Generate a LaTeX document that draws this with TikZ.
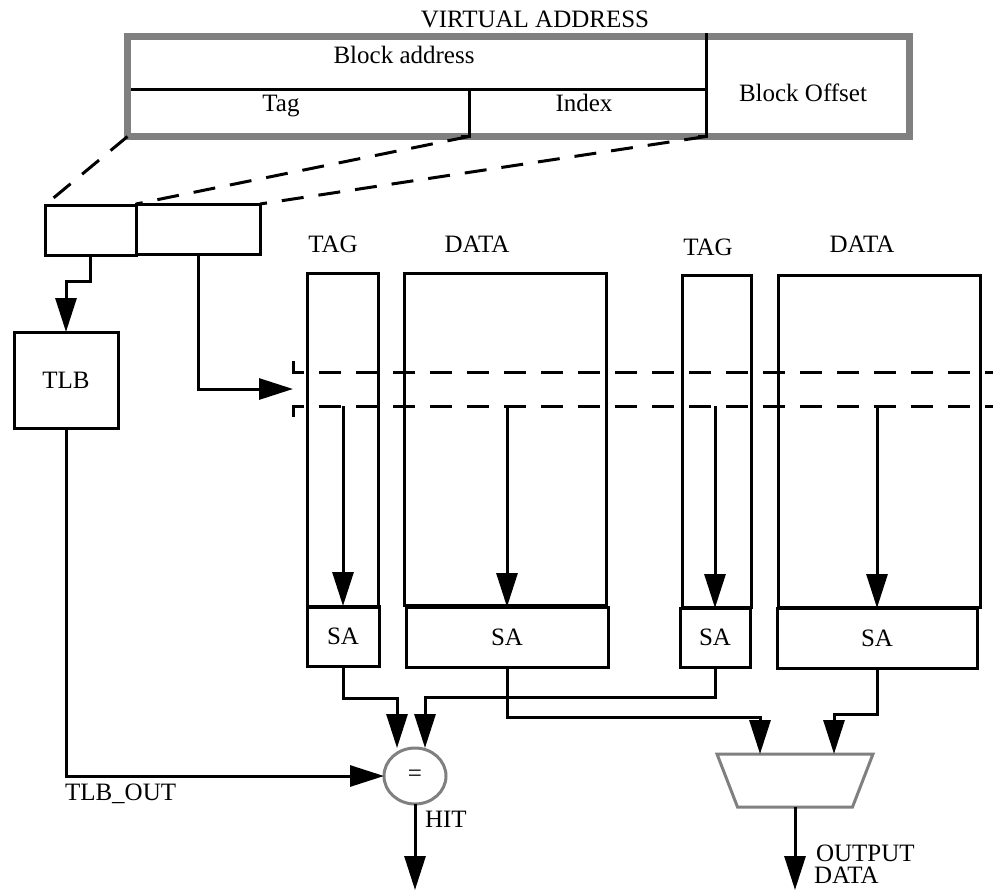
\documentclass[tikz,border=0pt]{standalone}
\usepackage{fontspec}
\setmainfont{Liberation Serif}
\usetikzlibrary{arrows.meta,shapes.geometric}
\definecolor{midgray}{RGB}{128,128,128}
\begin{document}
\begin{tikzpicture}[x=1pt,y=-1pt,
  font=\fontsize{25}{27}\selectfont,
  every node/.style={inner sep=0pt, outer sep=0pt},
  ln/.style={line width=3pt},
  arr/.style={line width=3pt, -{Triangle[length=34pt,width=21pt]}},
  dsh/.style={line width=3pt, dash pattern=on 22pt off 15pt},
  blk/.style={draw, line width=3pt, anchor=north west},
  lbl/.style={anchor=base},
  lblw/.style={anchor=base west},
  grayline/.style={draw=midgray, line width=3pt},
]
\useasboundingbox (0,0) rectangle (993,892);

% virtual address box
\node[draw=midgray, line width=7pt, minimum width=781.5, minimum height=100, anchor=north west] (va) at (127.5,36.5) {};
\node[lbl] (vatitle) at (535,27) {VIRTUAL ADDRESS};
\node[lbl] (blkaddr) at (404,63) {Block address};
\node[lbl] (tagtxt) at (281,111) {Tag};
\node[lbl] (idxtxt) at (584,111) {Index};
\node[lbl] (offtxt) at (803,101) {Block Offset};
\coordinate (hl) at (131,89);
\coordinate (s1top) at (469,89);
\coordinate (s1) at (469,136.5);
\coordinate (s2top) at (706,33);
\coordinate (s2) at (706,136.5);
\draw[ln] (hl) -- (s2top |- hl);
\draw[ln] (s2top) -- (s2) -- ++(-8,0);
\draw[ln] (s1top) -- (s1) -- ++(-8,0);

% split boxes
\node[blk, minimum width=91, minimum height=50] (tagbits) at (45,205) {};
\node[blk, minimum width=124, minimum height=50] (idxbits) at (136,204) {};
\draw[dsh] (va.south west) -- (tagbits.north west);
\draw[dsh] (s1) -- (idxbits.north west);
\draw[dsh] (s2) -- (idxbits.north east);

% TLB
\node[blk, minimum width=104, minimum height=96] (tlb) at (14,332) {TLB};
\coordinate (tlbbend) at (0,281);
\draw[arr] (tagbits.south) -- (tagbits.south |- tlbbend) -| (tlb.north);

% dashed band (selected set)
\coordinate (bandtl) at (293,372);
\coordinate (bandbl) at (293,406);
\coordinate (bandtr) at (993,372);
\coordinate (bandbr) at (993,406);
\coordinate (bandin) at (293,389);
\draw[dsh] ([yshift=11]bandtl) -- (bandtl) -- (bandtr);
\draw[dsh] ([yshift=-11]bandbl) -- (bandbl) -- (bandbr);
\draw[arr] (idxbits.south) |- (bandin);

% arrays
\node[blk, minimum width=71, minimum height=334] (tag1) at (307,273) {};
\node[blk, minimum width=72, minimum height=60] (sa1) at (307,606) {SA};
\node[blk, minimum width=202, minimum height=332] (data1) at (404,273) {};
\node[blk, minimum width=202, minimum height=60] (sa2) at (406,607) {SA};
\node[blk, minimum width=69, minimum height=332] (tag2) at (682,275) {};
\node[blk, minimum width=70, minimum height=59] (sa3) at (680,608) {SA};
\node[blk, minimum width=202, minimum height=332] (data2) at (778,275) {};
\node[blk, minimum width=200, minimum height=60] (sa4) at (777,608) {SA};

\node[lbl] (tag1lbl) at (333,252) {TAG};
\node[lbl] (data1lbl) at (477,252) {DATA};
\node[lbl] (tag2lbl) at (708,255) {TAG};
\node[lbl] (data2lbl) at (862,252) {DATA};

\draw[arr] (sa1.north |- bandbl) -- (sa1.north);
\draw[arr] (sa2.north |- bandbl) -- (sa2.north);
\draw[arr] (sa3.north |- bandbl) -- (sa3.north);
\draw[arr] (sa4.north |- bandbl) -- (sa4.north);

% comparator
\node[ellipse, draw=midgray, line width=3pt, minimum width=62, minimum height=56] (cmp) at (415,776) {=};
\coordinate (b1) at (0,698);
\coordinate (b2) at (0,697);
\coordinate (b3) at (0,717);
\coordinate (b4) at (0,714);
\draw[arr] (sa1.south) -- (sa1.south |- b1) -| ([xshift=-18]cmp.north);
\draw[arr] (sa3.south) -- (sa3.south |- b2) -| ([xshift=10]cmp.north);
\draw[arr] (tlb.south) |- (cmp.west);
\coordinate (hitend) at (415,890);
\draw[arr] (cmp.south) -- (hitend);
\node[lblw] (hit) at (425,827) {HIT};
\node[lblw] (tlbout) at (65,800) {TLB\_OUT};

% mux
\node[minimum width=156, minimum height=53] (mux) at (795,780.5) {};
\draw[grayline, line join=miter] (mux.north west) -- (mux.north east) -- ([xshift=-20.5]mux.south east) -- ([xshift=20.5]mux.south west) -- cycle;
\draw[arr] (sa2.south) -- (sa2.south |- b3) -| ([xshift=-35]mux.north);
\draw[arr] (sa4.south) -- (sa4.south |- b4) -| ([xshift=39]mux.north);
\coordinate (dataend) at (795,890);
\draw[arr] (mux.south) -- (dataend);
\node[anchor=north west, align=left, font=\fontsize{25}{22}\selectfont] (outlbl) at (816,845) {OUTPUT\\\hspace*{-2pt}DATA};
\end{tikzpicture}
\end{document}
